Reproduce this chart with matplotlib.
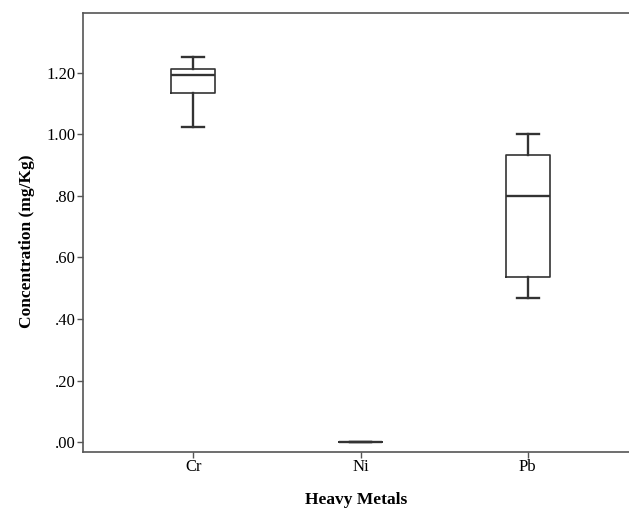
import matplotlib
matplotlib.use("Agg")
import matplotlib.pyplot as plt
from matplotlib.ticker import FuncFormatter

plt.rcParams['font.family'] = ['Liberation Serif', 'DejaVu Serif']

# box statistics
metals = ['Cr', 'Ni', 'Pb']
whis_lo = [1.024, 0.0, 0.467]
q1 = [1.135, 0.0, 0.535]
med = [1.193, 0.0, 0.800]
q3 = [1.212, 0.0, 0.934]
whis_hi = [1.251, 0.0, 1.000]

stats = []
for i, m in enumerate(metals):
    stats.append(dict(label=m, whislo=whis_lo[i], q1=q1[i], med=med[i],
                      q3=q3[i], whishi=whis_hi[i], fliers=[]))

fig = plt.figure(figsize=(6.29, 5.11), dpi=100)
ax = fig.add_axes([83 / 629, 1 - 452 / 511, 1 - 83 / 629, (452 - 13) / 511])

lw = 1.2
col = '#333333'
ax.bxp(stats, positions=[1, 2, 3], widths=0.26, showfliers=False,
       boxprops=dict(color=col, linewidth=lw),
       medianprops=dict(color=col, linewidth=lw * 1.4),
       whiskerprops=dict(color=col, linewidth=lw * 1.4),
       capprops=dict(color=col, linewidth=lw * 1.4),
       capwidths=0.13)

ax.set_xlim(0.341, 3.605)
ax.set_ylim(-0.032, 1.394)
ax.set_yticks([0, 0.2, 0.4, 0.6, 0.8, 1.0, 1.2])
ax.yaxis.set_major_formatter(FuncFormatter(
    lambda v, p: f'{v:.2f}' if v >= 1 else f'{v:.2f}'[1:]))

for s in ['left', 'bottom', 'top']:
    ax.spines[s].set_color('#555555')
    ax.spines[s].set_linewidth(1.2)
ax.spines['right'].set_visible(False)

ax.tick_params(axis='both', direction='out', length=4, width=1,
               color='#555555', labelsize=12, pad=1)

ax.set_xlabel('Heavy Metals', fontsize=12.5, fontweight='bold', labelpad=12)
ax.set_ylabel('Concentration (mg/Kg)', fontsize=12.5, fontweight='bold')
ax.yaxis.set_label_coords(-0.088, 0.48)

fig.savefig('out.png', dpi=100)
